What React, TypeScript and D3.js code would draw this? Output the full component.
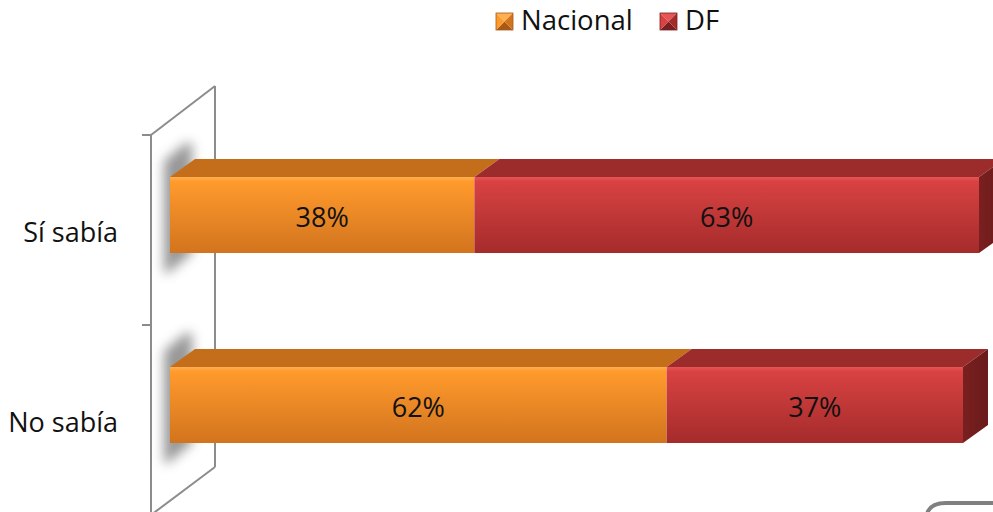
import React from "react";
import * as d3 from "d3";

const categories = ["Sí sabía", "No sabía"];
const seriesNames = ["Nacional", "DF"];
const nacional = [38, 62];
const df = [63, 37];

const W = 993;
const H = 512;
const FONT = "'Open Sans', 'DejaVu Sans', sans-serif";

const palette = {
  Nacional: { top: "#FF9A2C", bottom: "#D2741E", cap: "#C46E1C", side: "#A85A15", hi: "#FFB050" },
  DF: { top: "#D84242", bottom: "#A52B2B", cap: "#9C2C2C", side: "#7A1F1F", hi: "#E85555" },
};

export default function App() {
  const x = d3.scaleLinear().domain([0, 100]).range([170, 971]);
  const y = d3.scaleBand<string>().domain(categories).range([120, 500]).paddingInner(0.6).paddingOuter(0.3);
  const bw = y.bandwidth();
  const dx = 25;
  const dy = -18;

  const stack = d3.stack<any>().keys(seriesNames)(
    categories.map((c, i) => ({ cat: c, Nacional: nacional[i], DF: df[i] }))
  );

  const wallX = 151;
  const wdx = 64;
  const wdy = -49;
  const wallTop = 135;
  const wallStep = y.step();
  const wallBottom = wallTop + wallStep * categories.length;

  const para = (x0: number, x1: number, yy: number) =>
    `M${x0},${yy}L${x0 + dx},${yy + dy}L${x1 + dx},${yy + dy}L${x1},${yy}Z`;

  return (
    <svg width={W} height={H} style={{ position: "absolute", left: 0, top: 0, background: "#fff" }}>
      <defs>
        {seriesNames.map((s) => {
          const p = (palette as any)[s];
          return (
            <React.Fragment key={s}>
              <linearGradient id={`front-${s}`} x1="0" y1="0" x2="0" y2="1">
                <stop offset="0" stopColor={p.hi} />
                <stop offset="0.06" stopColor={p.top} />
                <stop offset="1" stopColor={p.bottom} />
              </linearGradient>
              <linearGradient id={`side-${s}`} x1="0" y1="0" x2="1" y2="0">
                <stop offset="0" stopColor={p.side} />
                <stop offset="1" stopColor={d3.color(p.side)!.darker(0.4).toString()} />
              </linearGradient>
            </React.Fragment>
          );
        })}
        <filter id="blur" filterUnits="userSpaceOnUse" x="0" y="0" width={W} height={H}>
          <feGaussianBlur stdDeviation="6" />
        </filter>
      </defs>

      {/* back wall */}
      <g stroke="#8c8c8c" strokeWidth={2} fill="none">
        <line x1={wallX} y1={wallTop} x2={wallX} y2={wallBottom + 10} />
        <line x1={wallX + wdx} y1={wallTop + wdy} x2={wallX + wdx} y2={wallBottom + wdy + 1} />
        <line x1={wallX} y1={wallTop} x2={wallX + wdx} y2={wallTop + wdy} />
        <line x1={wallX + wdx} y1={wallBottom + wdy + 1} x2={wallX} y2={wallBottom} />
        {d3.range(categories.length + 1).map((i) => (
          <line key={i} x1={wallX - 9} x2={wallX} y1={wallTop + i * wallStep} y2={wallTop + i * wallStep} />
        ))}
      </g>

      {/* shadows */}
      {categories.map((c) => {
        const y0 = y(c) as number;
        const sx = x(0) - 6;
        return (
          <path
            key={c}
            d={`M${sx},${y0 - 16}L${sx + 22},${y0 - 34}L${sx + 28},${y0 - 34}L${sx + 28},${y0 + bw}L${sx + 4},${y0 + bw + 20}L${sx},${y0 + bw + 20}Z`}
            fill="#858585"
            opacity={0.85}
            filter="url(#blur)"
          />
        );
      })}

      {/* bars */}
      {categories.map((c, ci) => {
        const y0 = y(c) as number;
        const segs = stack.map((s) => ({ key: s.key, a: s[ci][0], b: s[ci][1] }));
        const last = segs[segs.length - 1];
        return (
          <g key={c}>
            {segs.map((sg) => (
              <path key={"t" + sg.key} d={para(x(sg.a), x(sg.b), y0)} fill={(palette as any)[sg.key].cap} />
            ))}
            {segs.map((sg) => (
              <rect
                key={"f" + sg.key}
                x={x(sg.a)}
                y={y0}
                width={x(sg.b) - x(sg.a)}
                height={bw}
                fill={`url(#front-${sg.key})`}
              />
            ))}
            <path
              d={`M${x(last.b)},${y0}L${x(last.b) + dx},${y0 + dy}L${x(last.b) + dx},${y0 + bw + dy}L${x(last.b)},${y0 + bw}Z`}
              fill={`url(#side-${last.key})`}
            />
            {segs.map((sg) => (
              <text
                key={"l" + sg.key}
                x={(x(sg.a) + x(sg.b)) / 2}
                y={y0 + bw / 2 + 12}
                textAnchor="middle"
                fontFamily={FONT}
                fontSize={27}
                fill="#111"
              >
                {`${sg.b - sg.a}%`}
              </text>
            ))}
            <text x={118} y={y0 + bw / 2 + 27} textAnchor="end" fontFamily={FONT} fontSize={27} fill="#111">
              {c}
            </text>
          </g>
        );
      })}

      {/* legend */}
      {seriesNames.map((s, i) => {
        const lx = [496, 660][i];
        const ly = 13;
        const sz = 17;
        const p = (palette as any)[s];
        const cx = lx + sz / 2;
        const cy = ly + sz / 2;
        return (
          <g key={s}>
            <path d={`M${lx},${ly}L${lx + sz},${ly}L${cx},${cy}Z`} fill={p.hi} />
            <path d={`M${lx},${ly + sz}L${lx + sz},${ly + sz}L${cx},${cy}Z`} fill={p.side} />
            <path d={`M${lx},${ly}L${lx},${ly + sz}L${cx},${cy}Z`} fill={p.top} />
            <path d={`M${lx + sz},${ly}L${lx + sz},${ly + sz}L${cx},${cy}Z`} fill={p.bottom} />
            <rect x={lx} y={ly} width={sz} height={sz} fill="none" stroke={p.side} strokeWidth={0.8} />
            <text x={lx + 25} y={30} fontFamily={FONT} fontSize={27.5} fill="#111">
              {s}
            </text>
          </g>
        );
      })}

      {/* decorative corner */}
      <path d="M927,514 Q930,503 946,503 L996,503" fill="none" stroke="#808080" strokeWidth={4} />
    </svg>
  );
}
